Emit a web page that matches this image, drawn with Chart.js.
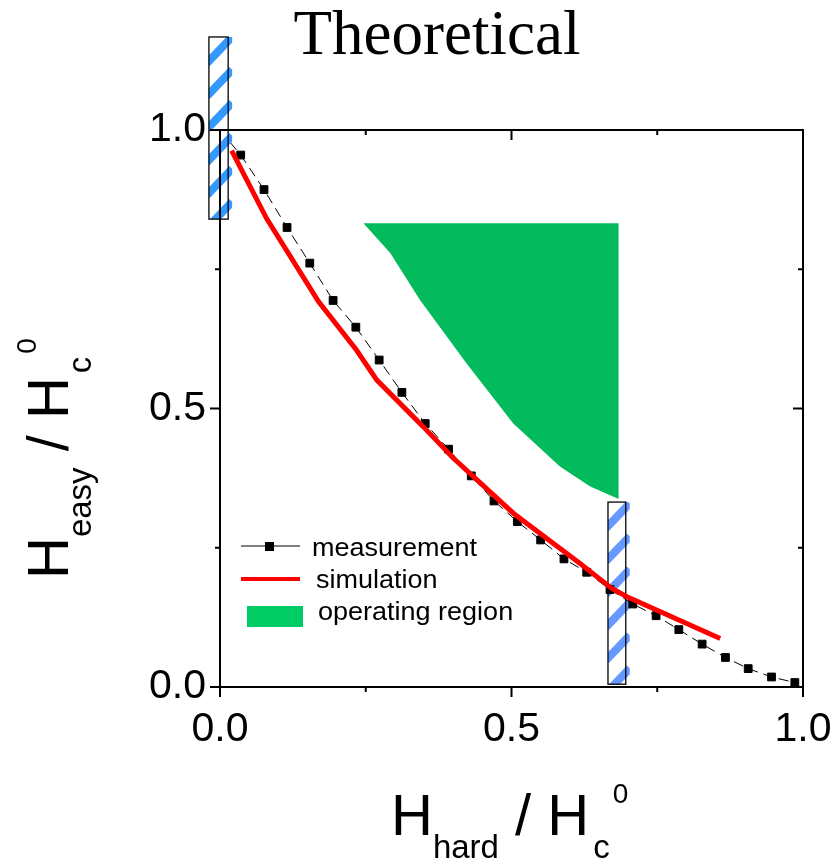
<!DOCTYPE html>
<html>
<head>
  <style>
    html, body { margin: 0; padding: 0; background: #fff; }
    .chart-container { position: relative; width: 833px; height: 864px; }
  </style>
  <script src="https://cdn.jsdelivr.net/npm/chart.js"></script>
</head>
<body>
  <div class="chart-container">
    <canvas id="switchChart" width="833" height="864"></canvas>
  </div>

  <script>
    // measured switching field (black squares, dashed)
    const measX = [0.0, 0.0355, 0.0755, 0.115, 0.154, 0.194, 0.233, 0.273, 0.312, 0.352, 0.392, 0.431, 0.470,
                   0.510, 0.550, 0.590, 0.629, 0.669, 0.708, 0.748, 0.787, 0.827, 0.867, 0.906, 0.946, 0.986];
    const measY = [1.0, 0.955, 0.893, 0.825, 0.761, 0.694, 0.646, 0.587, 0.529, 0.473, 0.427, 0.379, 0.334,
                   0.297, 0.264, 0.230, 0.206, 0.175, 0.149, 0.128, 0.103, 0.077, 0.053, 0.033, 0.018, 0.008];

    // simulated curve (red)
    const simX = [0.020, 0.080, 0.169, 0.234, 0.269, 0.349, 0.400, 0.503, 0.560, 0.617, 0.672, 0.698, 0.858];
    const simY = [0.963, 0.841, 0.692, 0.605, 0.551, 0.467, 0.411, 0.312, 0.267, 0.222, 0.177, 0.162, 0.087];

    // operating region: lower-left edge, filled up to regionTop
    const regionX = [0.246, 0.292, 0.343, 0.423, 0.503, 0.583, 0.635, 0.684];
    const regionY = [0.8325, 0.779, 0.695, 0.581, 0.473, 0.396, 0.360, 0.3375];
    const regionTop = 0.8325;

    // hatched marker boxes (data ranges)
    const boxEasyX = [-0.019, 0.014];
    const boxEasyY = [0.840, 1.167];
    const boxHardX = [0.6655, 0.696];
    const boxHardY = [0.005, 0.332];

    const tickValues = [0.0, 0.5, 1.0];
    const minorValues = [0.25, 0.75];
    const legendLabels = ['measurement', 'simulation', 'operating region'];

    const pts = (xs, ys) => xs.map((x, i) => ({ x: x, y: ys[i] }));

    function drawBox(ctx, xs, ys, bx, by, color) {
      const x0 = xs.getPixelForValue(bx[0]), x1 = xs.getPixelForValue(bx[1]);
      const y0 = ys.getPixelForValue(by[1]), y1 = ys.getPixelForValue(by[0]);
      const w = x1 - x0, h = y1 - y0;
      ctx.save();
      ctx.fillStyle = '#fff';
      ctx.fillRect(x0, y0, w, h);
      ctx.beginPath();
      ctx.rect(x0, y0, w + 4, h);
      ctx.clip();
      ctx.strokeStyle = color;
      ctx.lineWidth = 8;
      for (let y = y1 + 40; y > y0 - 10; y -= 33) {
        ctx.beginPath();
        ctx.moveTo(x0 - 2, y + 2);
        ctx.lineTo(x0 + w + 4, y - (w + 4) * 1.05);
        ctx.stroke();
      }
      ctx.restore();
      ctx.save();
      ctx.strokeStyle = '#000';
      ctx.lineWidth = 1.3;
      ctx.strokeRect(x0, y0, w, h);
      ctx.restore();
    }

    // label with sub/superscripts: H_sub / H_c^0
    function drawFieldLabel(ctx, sub) {
      const big = '58px "Liberation Sans", Arial, sans-serif';
      const small = '33px "Liberation Sans", Arial, sans-serif';
      const sup = '28px "Liberation Sans", Arial, sans-serif';
      let x = 0;
      ctx.textAlign = 'left';
      ctx.textBaseline = 'alphabetic';
      ctx.font = big; ctx.fillText('H', x, 0); x += ctx.measureText('H').width;
      ctx.font = small; ctx.fillText(sub, x, 23); x += ctx.measureText(sub).width;
      ctx.font = big; ctx.fillText(' / H', x, 0); x += ctx.measureText(' / H').width + 4;
      ctx.font = small; ctx.fillText('c', x, 23); x += ctx.measureText('c').width + 3;
      ctx.font = sup; ctx.fillText('0', x, -32);
    }

    const decor = {
      id: 'decor',
      beforeDatasetsDraw(chart) {
        const { ctx, scales: { x, y } } = chart;
        drawBox(ctx, x, y, boxHardX, boxHardY, '#6699ff');
      },
      afterDatasetsDraw(chart) {
        const { ctx, chartArea: a, scales: { x, y } } = chart;
        drawBox(ctx, x, y, boxEasyX, boxEasyY, '#3399ff');

        // frame
        ctx.save();
        ctx.strokeStyle = '#000';
        ctx.lineWidth = 2;
        ctx.strokeRect(a.left, a.top, a.right - a.left, a.bottom - a.top);

        // ticks: outward on bottom/left, inward on top/right
        const tick = (vals, len) => {
          vals.forEach(v => {
            const px = x.getPixelForValue(v);
            const py = y.getPixelForValue(v);
            ctx.beginPath();
            ctx.moveTo(px, a.bottom); ctx.lineTo(px, a.bottom + len);
            ctx.moveTo(px, a.top); ctx.lineTo(px, a.top + len);
            ctx.moveTo(a.left, py); ctx.lineTo(a.left - len, py);
            ctx.moveTo(a.right, py); ctx.lineTo(a.right - len, py);
            ctx.stroke();
          });
        };
        tick(tickValues, 10);
        tick(minorValues, 5);
        ctx.restore();

        // legend
        ctx.save();
        const sim = chart.data.datasets[0];
        const meas = chart.data.datasets[1];
        ctx.strokeStyle = meas.borderColor;
        ctx.lineWidth = 1;
        ctx.beginPath(); ctx.moveTo(241, 546); ctx.lineTo(300, 546); ctx.stroke();
        ctx.fillStyle = '#000';
        ctx.fillRect(265, 542, 9, 9);
        ctx.strokeStyle = sim.borderColor;
        ctx.lineWidth = 4;
        ctx.beginPath(); ctx.moveTo(241, 579); ctx.lineTo(300, 579); ctx.stroke();
        ctx.fillStyle = '#00cc66';
        ctx.fillRect(247, 606, 56, 21);
        ctx.fillStyle = '#000';
        ctx.font = '25px "Liberation Sans", Arial, sans-serif';
        ctx.textAlign = 'left';
        ctx.textBaseline = 'alphabetic';
        const row = (txt, tx, ty) => {
          ctx.save();
          ctx.translate(tx, ty);
          ctx.scale(1.08, 1);
          ctx.fillText(txt, 0, 0);
          ctx.restore();
        };
        row(legendLabels[0], 312, 556);
        row(legendLabels[1], 316, 588);
        row(legendLabels[2], 318, 620);
        ctx.restore();
      },
      afterDraw(chart) {
        const { ctx } = chart;
        ctx.save();
        ctx.fillStyle = '#000';
        ctx.font = '63px "Liberation Serif", "Times New Roman", serif';
        ctx.textAlign = 'center';
        ctx.textBaseline = 'alphabetic';
        ctx.fillText('Theoretical', 437, 54);

        ctx.save();
        ctx.translate(391, 835);
        drawFieldLabel(ctx, 'hard');
        ctx.restore();

        ctx.save();
        ctx.translate(68, 579);
        ctx.rotate(-Math.PI / 2);
        drawFieldLabel(ctx, 'easy');
        ctx.restore();
        ctx.restore();
      }
    };

    document.addEventListener('DOMContentLoaded', function() {
      const ctx = document.getElementById('switchChart').getContext('2d');

      const tickFont = { family: '"Liberation Sans", Arial, sans-serif', size: 41 };

      const config = {
        type: 'scatter',
        data: {
          datasets: [{
            label: 'simulation',
            data: pts(simX, simY),
            showLine: true,
            borderColor: '#ff0000',
            borderWidth: 5,
            pointRadius: 0,
            tension: 0,
            fill: false
          }, {
            label: 'measurement',
            data: pts(measX, measY),
            showLine: true,
            borderColor: '#000',
            borderWidth: 1,
            borderDash: [10, 6],
            pointStyle: 'rect',
            pointRadius: 5.5,
            pointBackgroundColor: '#000',
            pointBorderColor: '#000',
            pointBorderWidth: 1,
            tension: 0,
            fill: false
          }, {
            label: 'operating region',
            data: pts(regionX, regionY),
            showLine: true,
            borderWidth: 0,
            borderColor: 'rgba(0,0,0,0)',
            backgroundColor: '#03ba5c',
            pointRadius: 0,
            tension: 0,
            fill: { value: regionTop }
          }]
        },
        options: {
          responsive: false,
          animation: false,
          layout: { padding: { top: 130, right: 30, left: 0, bottom: 0 } },
          scales: {
            x: {
              type: 'linear',
              min: 0,
              max: 1,
              afterFit: s => { s.height = 177; s.paddingLeft = 0; s.paddingRight = 0; },
              afterBuildTicks: s => { s.ticks = tickValues.map(v => ({ value: v })); },
              ticks: {
                callback: v => v.toFixed(1),
                font: tickFont,
                color: '#000',
                padding: 18,
                maxRotation: 0,
                autoSkip: false
              },
              grid: { display: false, drawTicks: false },
              border: { display: false }
            },
            y: {
              type: 'linear',
              min: 0,
              max: 1,
              afterFit: s => { s.width = 220; s.paddingTop = 0; s.paddingBottom = 0; },
              afterBuildTicks: s => { s.ticks = tickValues.map(v => ({ value: v })); },
              ticks: {
                callback: v => v.toFixed(1),
                font: tickFont,
                color: '#000',
                padding: 14,
                autoSkip: false
              },
              grid: { display: false, drawTicks: false },
              border: { display: false }
            }
          },
          plugins: {
            legend: { display: false },
            tooltip: { enabled: false }
          }
        },
        plugins: [decor]
      };

      const switchChart = new Chart(ctx, config);
    });
  </script>
</body>
</html>
